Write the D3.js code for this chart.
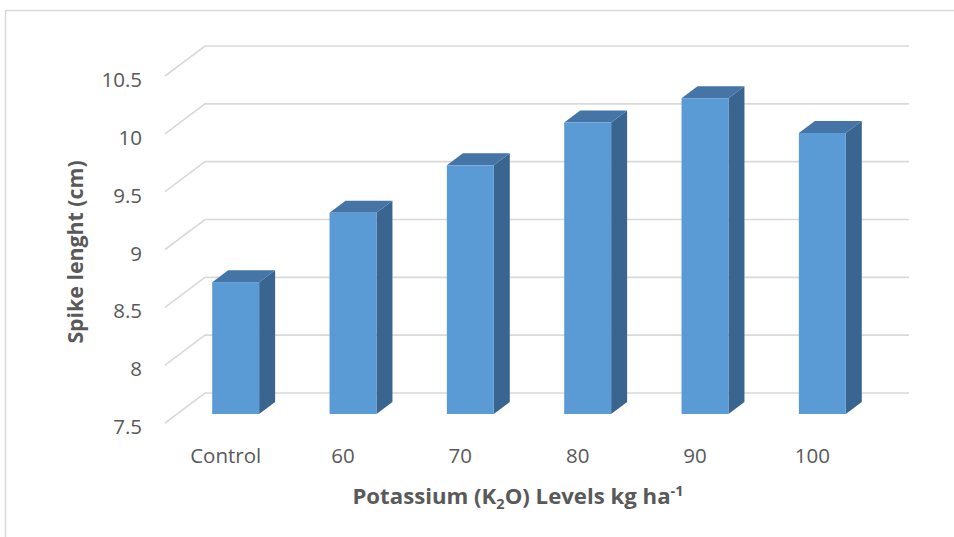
<!DOCTYPE html>
<html>
<head>
<meta charset="utf-8">
<script src="https://cdn.jsdelivr.net/npm/d3@7"></script>
<style>
  html, body { margin: 0; padding: 0; background: #fff; }
  svg { display: block; }
  text { font-family: "Open Sans", sans-serif; fill: #595959; }
</style>
</head>
<body>
<svg id="chart" width="954" height="537"></svg>
<script>
const categories = ["Control", "60", "70", "80", "90", "100"];
const values = [8.64, 9.24, 9.65, 10.02, 10.23, 9.93];
const yTicks = [7.5, 8, 8.5, 9, 9.5, 10, 10.5];
const yTitle = "Spike lenght (cm)";
const xTitleParts = ["Potassium (K", "2", "O) Levels kg ha", "-1"];

const svg = d3.select("#chart");
const W = 954, H = 537;

// chart border
svg.append("rect")
  .attr("x", 5.5).attr("y", 10.5)
  .attr("width", W + 10).attr("height", H + 10)
  .attr("fill", "none").attr("stroke", "#d9d9d9").attr("stroke-width", 1.5);

const x = d3.scaleBand().domain(categories).range([165, 869]);
const y = d3.scaleLinear().domain([7.5, 10.5]).range([423, 76]);
const DX = 40, DY = -30;       // depth offset of the 3D box
const f0 = 0.3, f1 = 0.7;      // bar depth placement
const bw = x.bandwidth() * 0.4;

// gridlines: side wall diagonal + back wall
const grid = svg.append("g").attr("stroke", "#d9d9d9").attr("stroke-width", 1.6).attr("fill", "none");
yTicks.forEach(v => {
  const yf = y(v);
  grid.append("path")
    .attr("d", `M${x.range()[0]},${yf} L${x.range()[0] + DX},${yf + DY} L${x.range()[1] + DX},${yf + DY}`);
});

// bars
const bars = svg.append("g");
categories.forEach((c, i) => {
  const v = values[i];
  const xl = x(c) + x.bandwidth() * 0.3 + DX * f0;
  const xr = xl + bw;
  const yb = y(7.5) + DY * f0;
  const yt = y(v) + DY * f0;
  const ddx = DX * (f1 - f0), ddy = DY * (f1 - f0);
  // side face
  bars.append("path")
    .attr("d", `M${xr},${yt} L${xr + ddx},${yt + ddy} L${xr + ddx},${yb + ddy} L${xr},${yb} Z`)
    .attr("fill", "#3a6590");
  // top face
  bars.append("path")
    .attr("d", `M${xl},${yt} L${xl + ddx},${yt + ddy} L${xr + ddx},${yt + ddy} L${xr},${yt} Z`)
    .attr("fill", "#4574a6");
  // front face
  bars.append("rect")
    .attr("x", xl).attr("y", yt)
    .attr("width", bw).attr("height", yb - yt)
    .attr("fill", "#5b9bd5");
});

// y axis labels
const yAxis = d3.axisLeft(y).tickValues(yTicks).tickSize(0).tickPadding(0).tickFormat(d3.format("~g"));
const gy = svg.append("g").attr("transform", "translate(142,4)").call(yAxis);
gy.select(".domain").remove();
gy.selectAll("text").style("font-size", "20.5px").attr("fill", "#595959").style("font-family", "'Open Sans', sans-serif");

// x axis labels
const xAxis = d3.axisBottom(x).tickSize(0).tickPadding(0);
const gx = svg.append("g").attr("transform", "translate(2,448.6)").call(xAxis);
gx.select(".domain").remove();
gx.selectAll("text").style("font-size", "20.5px").attr("fill", "#595959").style("font-family", "'Open Sans', sans-serif");

// y title
svg.append("text")
  .attr("transform", "translate(83,252) rotate(-90)")
  .attr("text-anchor", "middle")
  .style("font-size", "21.3px").style("font-weight", "bold")
  .text(yTitle);

// x title
const xt = svg.append("text")
  .attr("x", 518).attr("y", 504)
  .attr("text-anchor", "middle")
  .style("font-size", "22.2px").style("font-weight", "bold");
xt.append("tspan").text(xTitleParts[0]);
xt.append("tspan").attr("dy", 5).style("font-size", "14.5px").text(xTitleParts[1]);
xt.append("tspan").attr("dy", -5).text(xTitleParts[2]);
xt.append("tspan").attr("dy", -8).style("font-size", "14.5px").text(xTitleParts[3]);
</script>
</body>
</html>
